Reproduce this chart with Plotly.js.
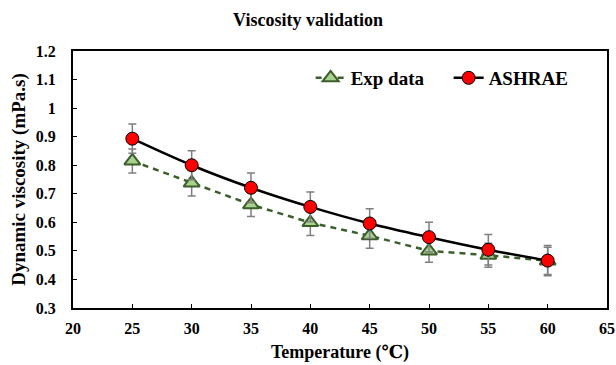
<!DOCTYPE html>
<html>
<head>
<meta charset="utf-8">
<script src="https://cdn.plot.ly/plotly-3.0.1.min.js"></script>
<style>html,body{margin:0;padding:0;background:#fff;}#chart{width:616px;height:365px;}</style>
</head>
<body>
<div id="chart"></div>
<script>
var temperature = [25, 30, 35, 40, 45, 50, 55, 60];
var expData = [0.815, 0.738, 0.662, 0.599, 0.553, 0.500, 0.485, 0.465];
var expErr = [0.042, 0.046, 0.042, 0.045, 0.044, 0.040, 0.042, 0.048];
var ashrae = [0.893, 0.800, 0.721, 0.654, 0.596, 0.548, 0.504, 0.466];
var ashraeErr = [0.051, 0.051, 0.052, 0.052, 0.052, 0.052, 0.053, 0.053];
var xTicks = [20, 25, 30, 35, 40, 45, 50, 55, 60, 65];
var yTicks = [0.3, 0.4, 0.5, 0.6, 0.7, 0.8, 0.9, 1, 1.1, 1.2];
var yTickText = ['0.3','0.4','0.5','0.6','0.7','0.8','0.9','1','1.1','1.2'];

var font = 'Liberation Serif, Times New Roman, DejaVu Serif, serif';
function b(s) { return '<b>' + s + '</b>'; }

var traces = [
  {
    x: temperature, y: expData, name: b('Exp data'), type: 'scatter', mode: 'lines+markers',
    line: {color: '#3b5e2b', width: 2.5, dash: '6px,5px'},
    marker: {symbol: 'triangle-up', size: 14, color: '#a9d18e', line: {color: '#3b5e2b', width: 2}},
    error_y: {type: 'data', array: expErr, visible: true, color: '#7f7f7f', thickness: 1.5, width: 4}
  },
  {
    x: temperature, y: ashrae, name: b('ASHRAE'), type: 'scatter', mode: 'lines+markers',
    line: {color: '#000000', width: 2.5, shape: 'spline'},
    marker: {symbol: 'circle', size: 13, color: '#ff0000', line: {color: '#000000', width: 1}},
    error_y: {type: 'data', array: ashraeErr, visible: true, color: '#7f7f7f', thickness: 1.5, width: 4}
  }
];

var layout = {
  width: 616, height: 365,
  margin: {l: 73, r: 9, t: 51, b: 57},
  paper_bgcolor: '#ffffff', plot_bgcolor: '#ffffff',
  font: {family: font, color: '#000000'},
  title: {text: b('Viscosity validation'), font: {family: font, size: 18, color: '#000'}, x: 0.5, xanchor: 'center', y: 0.945, yanchor: 'middle'},
  showlegend: true,
  legend: {orientation: 'h', x: 0.445, y: 0.895, xanchor: 'left', yanchor: 'middle',
    font: {family: font, size: 19, color: '#000'}, bgcolor: 'rgba(0,0,0,0)', itemwidth: 30,
    entrywidth: 93, entrywidthmode: 'pixels', traceorder: 'normal'},
  xaxis: {
    range: [20, 65], tickvals: xTicks, ticktext: xTicks.map(function (v) { return b(String(v)); }),
    showgrid: false, zeroline: false, showline: true, linecolor: '#000', linewidth: 2, mirror: true,
    ticks: 'inside', ticklen: 4, tickcolor: '#000', tickwidth: 1, ticklabelstandoff: 5,
    tickfont: {family: font, size: 16, color: '#000'},
    title: {text: b('Temperature (℃)'), font: {family: font, size: 18, color: '#000'}, standoff: 9}
  },
  yaxis: {
    range: [0.3, 1.2], tickvals: yTicks, ticktext: yTickText.map(b),
    showgrid: false, zeroline: false, showline: true, linecolor: '#000', linewidth: 2, mirror: true,
    ticks: 'inside', ticklen: 4, tickcolor: '#000', tickwidth: 1, ticklabelstandoff: 12,
    tickfont: {family: font, size: 16, color: '#000'},
    title: {text: b('Dynamic viscosity (mPa.s)'), font: {family: font, size: 19, color: '#000'}, standoff: 5}
  }
};

Plotly.newPlot('chart', traces, layout, {staticPlot: true, displayModeBar: false});
</script>
</body>
</html>
